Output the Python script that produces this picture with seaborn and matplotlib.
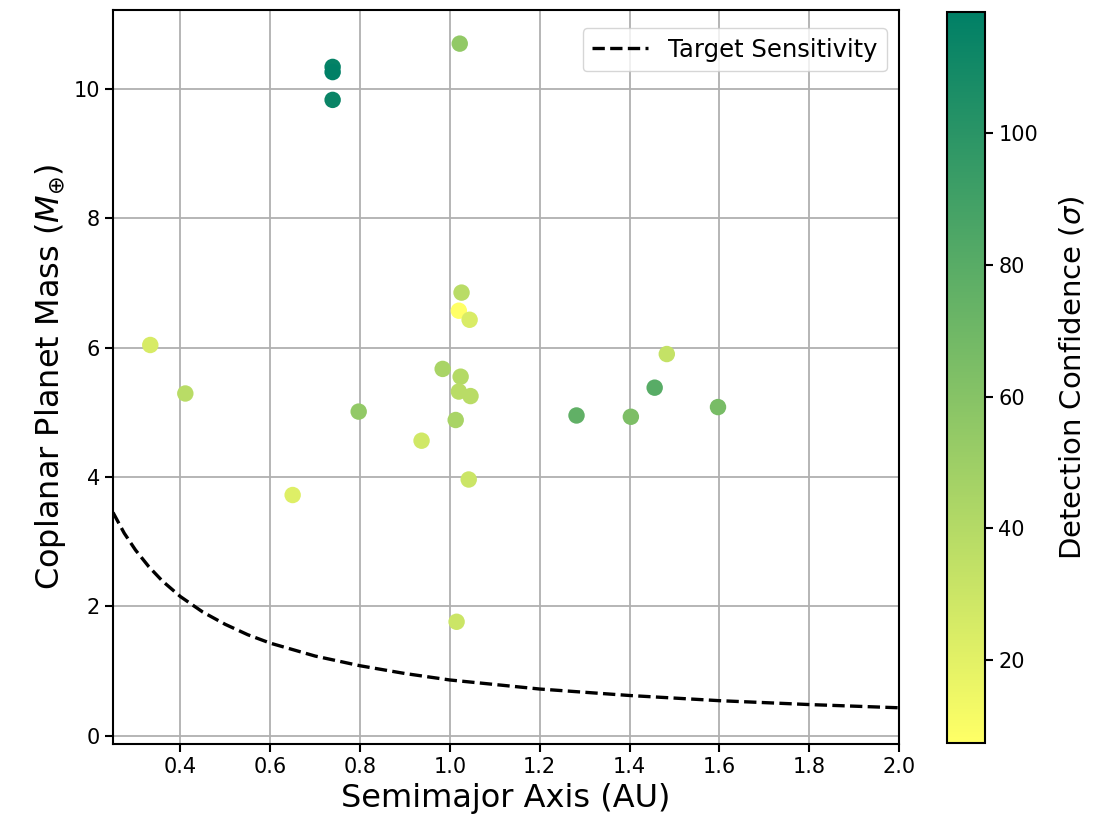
import numpy as np
import pandas as pd
import matplotlib
matplotlib.use("Agg")
import matplotlib.pyplot as plt
import seaborn as sns
from matplotlib.colors import Normalize
from matplotlib.cm import ScalarMappable

# ---- data ----
semimajor_au = [0.333, 0.411, 0.650, 0.739, 0.739, 0.739, 1.022, 1.026, 1.020,
                1.044, 0.984, 1.024, 1.020, 1.046, 1.013, 0.937, 1.042, 1.282,
                1.403, 1.456, 1.483, 1.597, 0.797, 1.015]
planet_mass = [6.04, 5.29, 3.72, 10.34, 10.26, 9.83, 10.70, 6.85, 6.57,
               6.43, 5.67, 5.55, 5.32, 5.25, 4.88, 4.56, 3.96, 4.95,
               4.93, 5.38, 5.90, 5.08, 5.01, 1.76]
confidence = [25, 38, 22, 116, 118.4, 114, 55, 38, 7.4,
              24, 45, 40, 38, 38, 45, 28, 30, 76,
              64, 80, 33, 66, 55, 30]

sens_a = [0.25, 0.275, 0.3, 0.33, 0.36, 0.4, 0.45, 0.5, 0.55, 0.6, 0.7, 0.8,
          0.9, 1.0, 1.2, 1.4, 1.6, 1.8, 2.0]
sens_m = [3.45, 3.13, 2.87, 2.61, 2.39, 2.15, 1.91, 1.72, 1.56, 1.43, 1.23, 1.08,
          0.96, 0.86, 0.72, 0.62, 0.54, 0.48, 0.43]

x_ticks = [0.4, 0.6, 0.8, 1.0, 1.2, 1.4, 1.6, 1.8, 2.0]
y_ticks = [0, 2, 4, 6, 8, 10]
cbar_ticks = [20, 40, 60, 80, 100]

df = pd.DataFrame({"a": semimajor_au, "m": planet_mass, "c": confidence})
sens = pd.DataFrame({"a": sens_a, "m": sens_m})

plt.rcParams["font.family"] = ["DejaVu Sans"]

fig = plt.figure(figsize=(10.98, 8.31), dpi=100)
ax = fig.add_axes([113 / 1098, 1 - 744 / 831, (899 - 113) / 1098, (744 - 10) / 831])
cax = fig.add_axes([947 / 1098, 1 - 743 / 831, (985 - 947) / 1098, (743 - 12) / 831])

vmin, vmax = min(confidence), max(confidence)
norm = Normalize(vmin=vmin, vmax=vmax)
cmap = plt.get_cmap("summer_r")

ax.grid(True, color="#b0b0b0", linewidth=1.3, zorder=0)
ax.set_axisbelow(True)

sns.scatterplot(data=df, x="a", y="m", hue="c", palette=cmap, hue_norm=norm,
                s=140, linewidth=0, legend=False, ax=ax, zorder=3)
sns.lineplot(data=sens, x="a", y="m", color="black", linestyle="--", linewidth=2.4,
             label="Target Sensitivity", ax=ax, zorder=4)

ax.set_xlim(0.25, 2.0)
ax.set_ylim(-0.13, 11.22)
ax.set_xticks(x_ticks)
ax.set_yticks(y_ticks)
ax.tick_params(labelsize=15, width=1.5, length=6)
for s in ax.spines.values():
    s.set_linewidth(1.5)

ax.set_xlabel("Semimajor Axis (AU)", fontsize=23)
ax.set_ylabel(r"Coplanar Planet Mass ($M_{\oplus}$)", fontsize=23)

leg = ax.legend(loc="upper right", fontsize=17.5, framealpha=0.8,
                bbox_to_anchor=(1.0, 0.992), borderaxespad=0.5, handlelength=2.3)

sm = ScalarMappable(norm=norm, cmap=cmap)
sm.set_array([])
cb = fig.colorbar(sm, cax=cax)
cb.set_ticks(cbar_ticks)
cb.ax.tick_params(labelsize=15, width=1.5, length=6)
cb.outline.set_linewidth(1.5)
cb.set_label(r"Detection Confidence ($\sigma$)", fontsize=21, labelpad=14)

fig.savefig("out.png", dpi=100)
